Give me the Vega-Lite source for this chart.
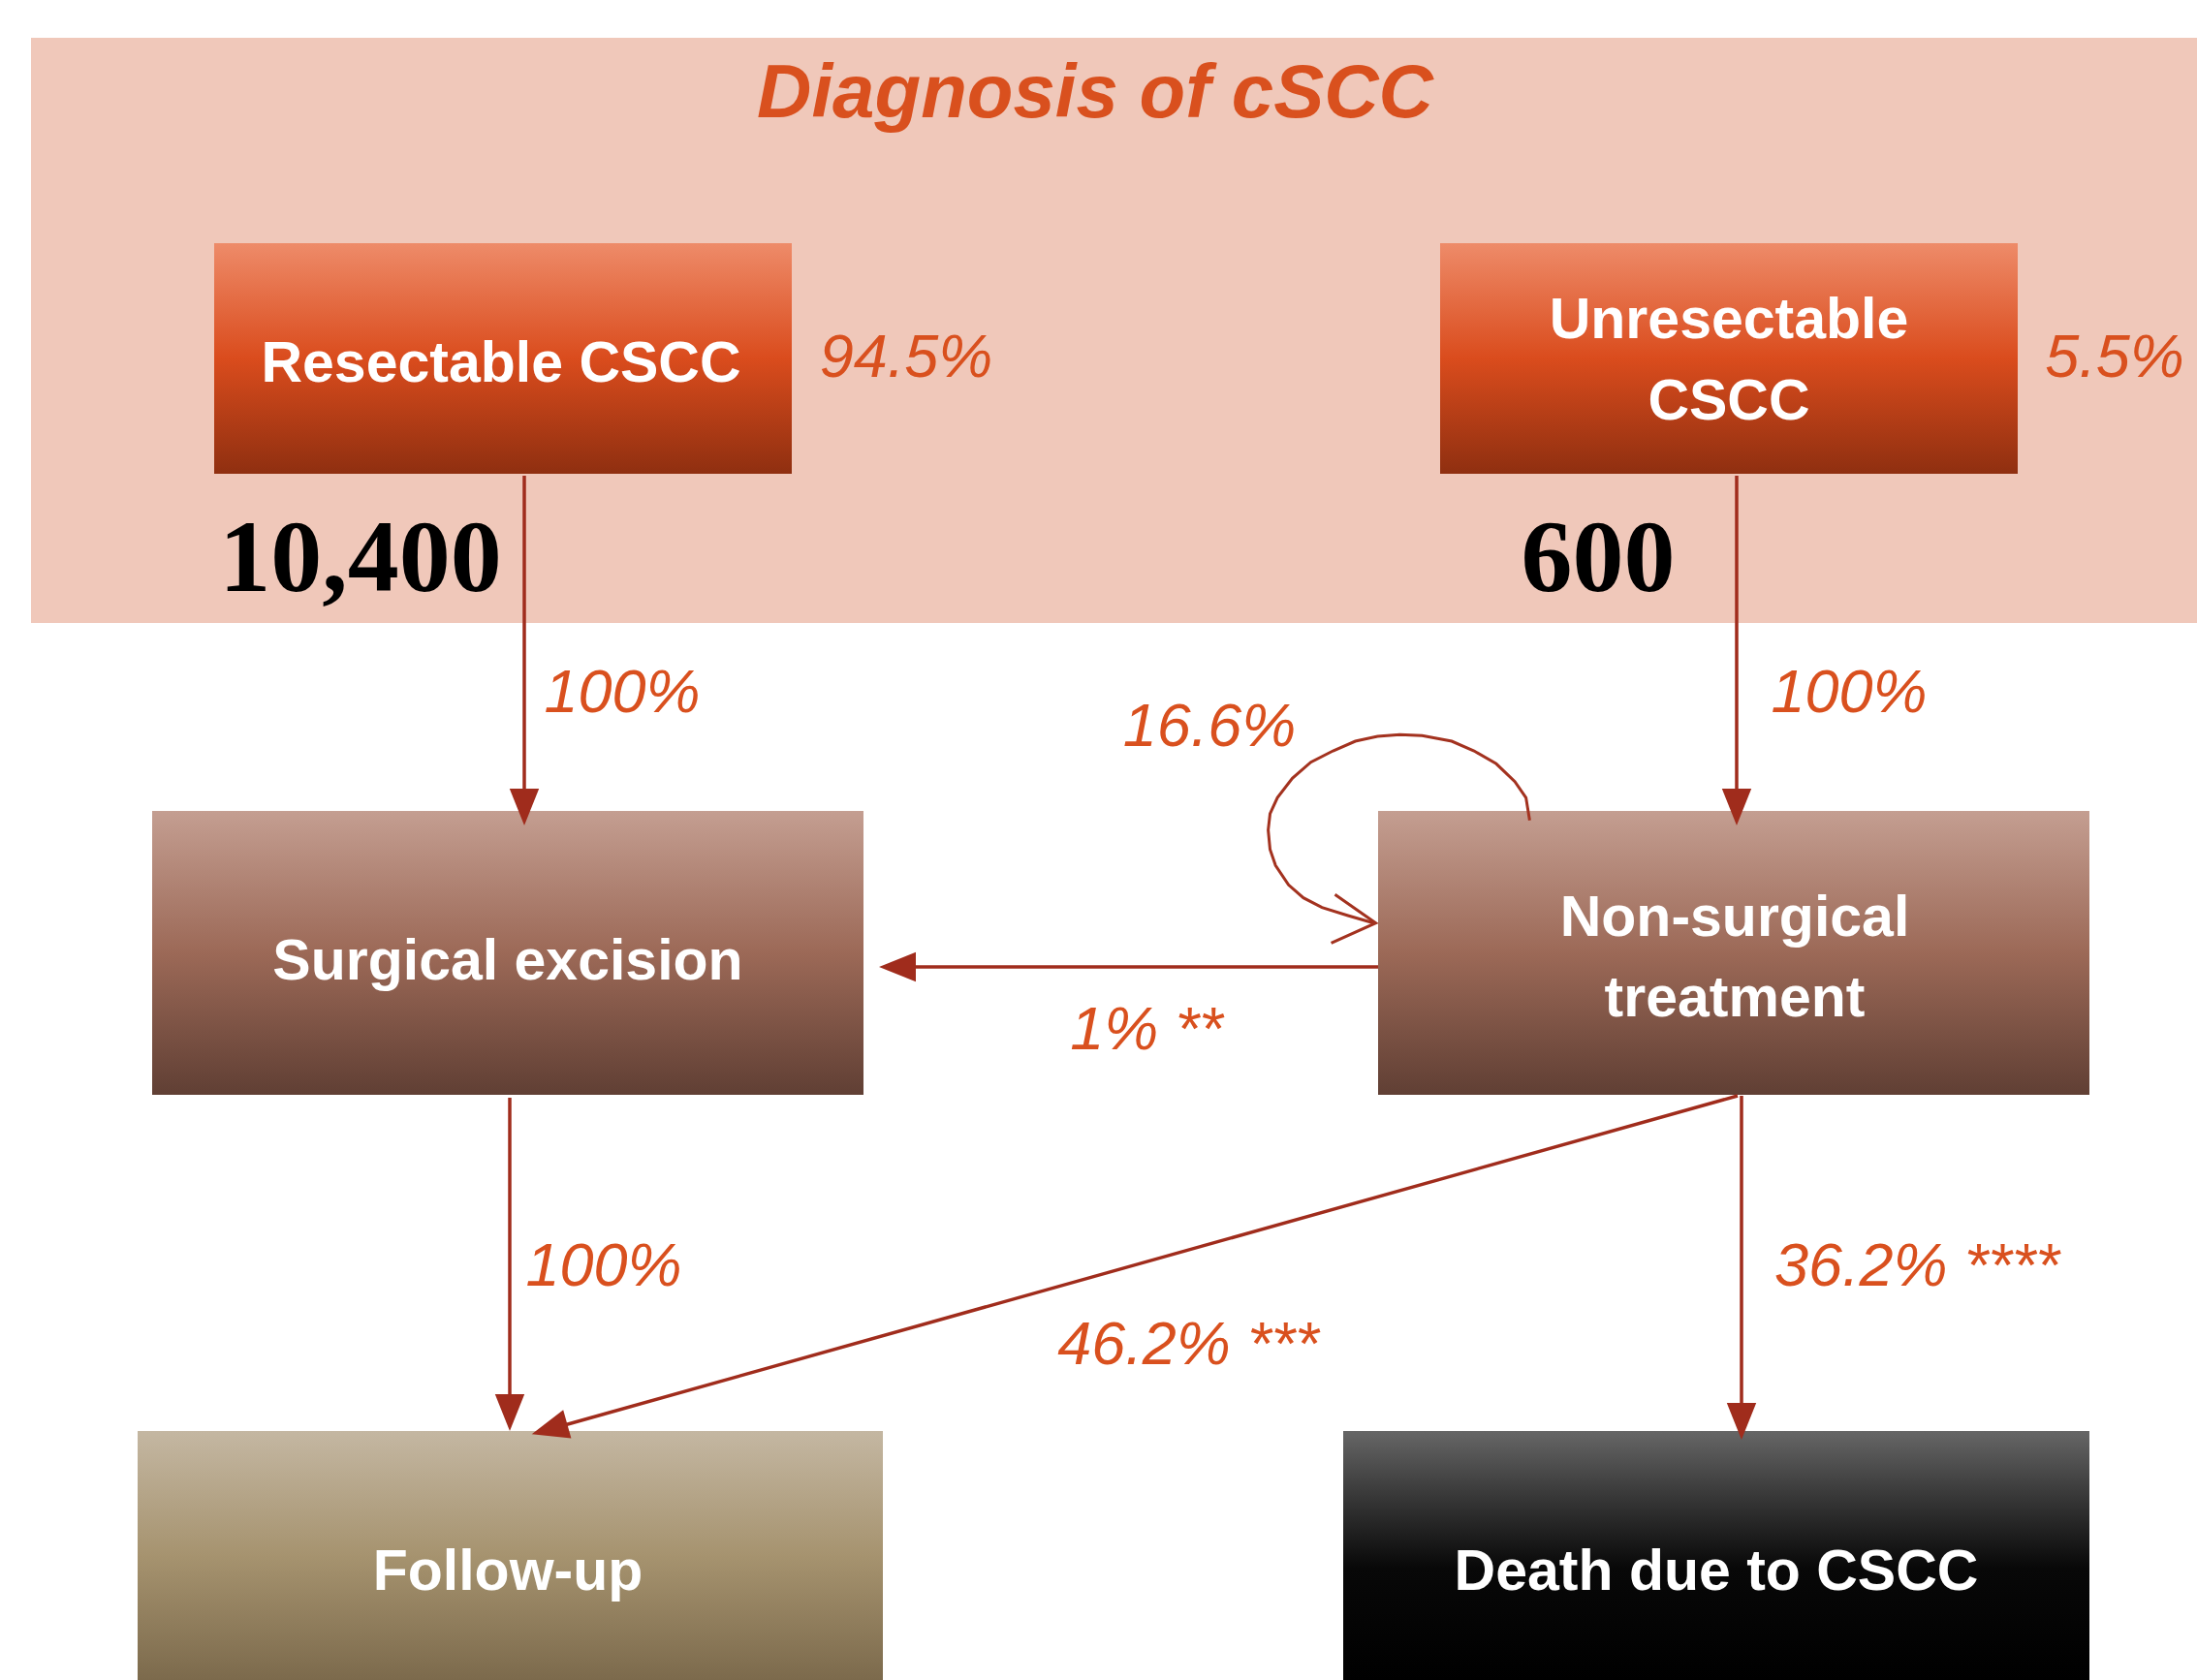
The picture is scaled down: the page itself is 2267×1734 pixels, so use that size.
{
  "$schema": "https://vega.github.io/schema/vega-lite/v6.json",
  "width": 2267,
  "height": 1734,
  "autosize": {"type": "fit", "contains": "padding"},
  "padding": 0,
  "background": "white",
  "config": {"view": {"stroke": null}, "axis": {"disable": true}},
  "datasets": {
    "boxes": [
      {"id": "diagnosis", "kind": "diag", "x1": 32, "x2": 2267, "y1": 39, "y2": 643},
      {"id": "resectable", "kind": "primary", "x1": 221, "x2": 817, "y1": 251, "y2": 489},
      {"id": "unresectable", "kind": "primary", "x1": 1486, "x2": 2082, "y1": 251, "y2": 489},
      {"id": "surgical", "kind": "treatment", "x1": 157, "x2": 891, "y1": 837, "y2": 1130},
      {"id": "nonsurgical", "kind": "treatment", "x1": 1422, "x2": 2156, "y1": 837, "y2": 1130},
      {"id": "followup", "kind": "follow", "x1": 142, "x2": 911, "y1": 1477, "y2": 1734},
      {"id": "death", "kind": "death", "x1": 1386, "x2": 2156, "y1": 1477, "y2": 1734}
    ],
    "arrows": [
      {"from": "resectable", "to": "surgical", "x1": 541, "y1": 491, "x2": 541, "y2": 838},
      {"from": "unresectable", "to": "nonsurgical", "x1": 1792, "y1": 491, "x2": 1792, "y2": 838},
      {"from": "nonsurgical", "to": "surgical", "x1": 1422, "y1": 998, "x2": 922, "y2": 998},
      {"from": "surgical", "to": "followup", "x1": 526, "y1": 1133, "x2": 526, "y2": 1462},
      {"from": "nonsurgical", "to": "death", "x1": 1797, "y1": 1131, "x2": 1797, "y2": 1470},
      {"from": "nonsurgical", "to": "followup", "x1": 1793, "y1": 1131, "x2": 568, "y2": 1475}
    ],
    "heads": [
      {"to": "surgical", "x": 541, "y": 833, "angle": 0},
      {"to": "nonsurgical", "x": 1792, "y": 833, "angle": 0},
      {"to": "surgical", "x": 926, "y": 998, "angle": 90},
      {"to": "followup", "x": 526, "y": 1458, "angle": 0},
      {"to": "death", "x": 1797, "y": 1467, "angle": 0},
      {"to": "followup", "x": 567, "y": 1475, "angle": 74.3}
    ],
    "loop": [
      {"part": "arc", "i": 0, "x": 1578.4, "y": 846.7},
      {"part": "arc", "i": 1, "x": 1574.6, "y": 823.3},
      {"part": "arc", "i": 2, "x": 1563.1, "y": 806.7},
      {"part": "arc", "i": 3, "x": 1543.9, "y": 788.3},
      {"part": "arc", "i": 4, "x": 1521.0, "y": 775.0},
      {"part": "arc", "i": 5, "x": 1498.0, "y": 765.0},
      {"part": "arc", "i": 6, "x": 1467.4, "y": 759.3},
      {"part": "arc", "i": 7, "x": 1444.4, "y": 758.3},
      {"part": "arc", "i": 8, "x": 1421.5, "y": 760.0},
      {"part": "arc", "i": 9, "x": 1398.5, "y": 765.0},
      {"part": "arc", "i": 10, "x": 1375.5, "y": 775.0},
      {"part": "arc", "i": 11, "x": 1352.6, "y": 786.7},
      {"part": "arc", "i": 12, "x": 1333.5, "y": 803.3},
      {"part": "arc", "i": 13, "x": 1318.1, "y": 823.3},
      {"part": "arc", "i": 14, "x": 1310.5, "y": 840.0},
      {"part": "arc", "i": 15, "x": 1308.6, "y": 856.7},
      {"part": "arc", "i": 16, "x": 1310.5, "y": 876.7},
      {"part": "arc", "i": 17, "x": 1316.2, "y": 893.3},
      {"part": "arc", "i": 18, "x": 1329.6, "y": 913.3},
      {"part": "arc", "i": 19, "x": 1344.9, "y": 926.7},
      {"part": "arc", "i": 20, "x": 1364.1, "y": 936.7},
      {"part": "arc", "i": 21, "x": 1390.9, "y": 945.0},
      {"part": "arc", "i": 22, "x": 1417.6, "y": 952.7},
      {"part": "chevron", "i": 0, "x": 1377.5, "y": 923.3},
      {"part": "chevron", "i": 1, "x": 1419.6, "y": 952.7},
      {"part": "chevron", "i": 2, "x": 1373.6, "y": 973.3}
    ],
    "labels": [
      {"role": "title", "text": "Diagnosis of cSCC", "x": 1130, "y": 121},
      {"role": "box", "text": "Resectable CSCC", "x": 517, "y": 394},
      {"role": "box", "text": "Unresectable", "x": 1784, "y": 349},
      {"role": "box", "text": "CSCC", "x": 1784, "y": 433},
      {"role": "box", "text": "Surgical excision", "x": 524, "y": 1011},
      {"role": "box", "text": "Non-surgical", "x": 1790, "y": 966},
      {"role": "box", "text": "treatment", "x": 1790, "y": 1049},
      {"role": "box", "text": "Follow-up", "x": 524, "y": 1641},
      {"role": "box", "text": "Death due to CSCC", "x": 1771, "y": 1641},
      {"role": "pct", "text": "94.5%", "x": 935, "y": 389},
      {"role": "pct", "text": "5.5%", "x": 2182, "y": 389},
      {"role": "pct", "text": "100%", "x": 642, "y": 735},
      {"role": "pct", "text": "100%", "x": 1908, "y": 735},
      {"role": "pct", "text": "16.6%", "x": 1248, "y": 770},
      {"role": "pct", "text": "1% **", "x": 1183, "y": 1083},
      {"role": "pct", "text": "100%", "x": 623, "y": 1327},
      {"role": "pct", "text": "36.2% ****", "x": 1978, "y": 1327},
      {"role": "pct", "text": "46.2% ***", "x": 1226, "y": 1408},
      {"role": "count", "text": "10,400", "x": 372, "y": 610},
      {"role": "count", "text": "600", "x": 1649, "y": 610}
    ]
  },
  "layer": [
    {
      "data": {"name": "boxes"},
      "transform": [{"filter": "datum.kind === 'diag'"}],
      "mark": {"type": "rect", "fill": "#F0C8BA"},
      "encoding": {
        "x": {"field": "x1", "type": "quantitative", "scale": {"domain": [0, 2267], "nice": false, "zero": false}},
        "x2": {"field": "x2"},
        "y": {"field": "y1", "type": "quantitative", "scale": {"domain": [0, 1734], "nice": false, "zero": false, "reverse": true}},
        "y2": {"field": "y2"}
      }
    },
    {
      "data": {"name": "boxes"},
      "transform": [{"filter": "datum.kind === 'primary'"}],
      "mark": {"type": "rect", "fill": {"gradient": "linear", "x1": 0, "y1": 0, "x2": 0, "y2": 1, "stops": [
        {"offset": 0, "color": "#EE8B69"},
        {"offset": 0.5, "color": "#DA4C1D"},
        {"offset": 1, "color": "#8F2F10"}
      ]}},
      "encoding": {
        "x": {"field": "x1", "type": "quantitative", "scale": {"domain": [0, 2267], "nice": false, "zero": false}},
        "x2": {"field": "x2"},
        "y": {"field": "y1", "type": "quantitative", "scale": {"domain": [0, 1734], "nice": false, "zero": false, "reverse": true}},
        "y2": {"field": "y2"}
      }
    },
    {
      "data": {"name": "boxes"},
      "transform": [{"filter": "datum.kind === 'treatment'"}],
      "mark": {"type": "rect", "fill": {"gradient": "linear", "x1": 0, "y1": 0, "x2": 0, "y2": 1, "stops": [
        {"offset": 0, "color": "#C49E91"},
        {"offset": 0.5, "color": "#9C6957"},
        {"offset": 1, "color": "#603F34"}
      ]}},
      "encoding": {
        "x": {"field": "x1", "type": "quantitative", "scale": {"domain": [0, 2267], "nice": false, "zero": false}},
        "x2": {"field": "x2"},
        "y": {"field": "y1", "type": "quantitative", "scale": {"domain": [0, 1734], "nice": false, "zero": false, "reverse": true}},
        "y2": {"field": "y2"}
      }
    },
    {
      "data": {"name": "boxes"},
      "transform": [{"filter": "datum.kind === 'follow'"}],
      "mark": {"type": "rect", "fill": {"gradient": "linear", "x1": 0, "y1": 0, "x2": 0, "y2": 1, "stops": [
        {"offset": 0, "color": "#C4B7A2"},
        {"offset": 0.5, "color": "#A6936F"},
        {"offset": 1, "color": "#7C6A4C"}
      ]}},
      "encoding": {
        "x": {"field": "x1", "type": "quantitative", "scale": {"domain": [0, 2267], "nice": false, "zero": false}},
        "x2": {"field": "x2"},
        "y": {"field": "y1", "type": "quantitative", "scale": {"domain": [0, 1734], "nice": false, "zero": false, "reverse": true}},
        "y2": {"field": "y2"}
      }
    },
    {
      "data": {"name": "boxes"},
      "transform": [{"filter": "datum.kind === 'death'"}],
      "mark": {"type": "rect", "fill": {"gradient": "linear", "x1": 0, "y1": 0, "x2": 0, "y2": 1, "stops": [
        {"offset": 0, "color": "#666666"},
        {"offset": 0.25, "color": "#3A3A3A"},
        {"offset": 0.55, "color": "#080808"},
        {"offset": 1, "color": "#000000"}
      ]}},
      "encoding": {
        "x": {"field": "x1", "type": "quantitative", "scale": {"domain": [0, 2267], "nice": false, "zero": false}},
        "x2": {"field": "x2"},
        "y": {"field": "y1", "type": "quantitative", "scale": {"domain": [0, 1734], "nice": false, "zero": false, "reverse": true}},
        "y2": {"field": "y2"}
      }
    },
    {
      "data": {"name": "arrows"},
      "mark": {"type": "rule", "color": "#A02C1C", "strokeWidth": 3.5},
      "encoding": {
        "x": {"field": "x1", "type": "quantitative", "scale": {"domain": [0, 2267], "nice": false, "zero": false}},
        "x2": {"field": "x2"},
        "y": {"field": "y1", "type": "quantitative", "scale": {"domain": [0, 1734], "nice": false, "zero": false, "reverse": true}},
        "y2": {"field": "y2"}
      }
    },
    {
      "data": {"name": "loop"},
      "mark": {"type": "line", "color": "#A3321F", "strokeWidth": 3, "interpolate": "linear"},
      "encoding": {
        "x": {"field": "x", "type": "quantitative", "scale": {"domain": [0, 2267], "nice": false, "zero": false}},
        "y": {"field": "y", "type": "quantitative", "scale": {"domain": [0, 1734], "nice": false, "zero": false, "reverse": true}},
        "order": {"field": "i", "type": "quantitative"},
        "detail": {"field": "part", "type": "nominal"}
      }
    },
    {
      "data": {"name": "heads"},
      "mark": {"type": "point", "shape": "M-0.8,-1L0.8,-1L0,1Z", "size": 1444, "filled": true, "opacity": 1, "color": "#A02C1C", "strokeWidth": 0},
      "encoding": {
        "x": {"field": "x", "type": "quantitative", "scale": {"domain": [0, 2267], "nice": false, "zero": false}},
        "y": {"field": "y", "type": "quantitative", "scale": {"domain": [0, 1734], "nice": false, "zero": false, "reverse": true}},
        "angle": {"field": "angle", "type": "quantitative", "scale": null}
      }
    },
    {
      "data": {"name": "labels"},
      "transform": [{"filter": "datum.role === 'title'"}],
      "mark": {"type": "text", "font": "Liberation Sans", "fontSize": 78, "fontWeight": "bold", "fontStyle": "italic", "color": "#D9501E", "align": "center", "baseline": "alphabetic"},
      "encoding": {
        "x": {"field": "x", "type": "quantitative", "scale": {"domain": [0, 2267], "nice": false, "zero": false}},
        "y": {"field": "y", "type": "quantitative", "scale": {"domain": [0, 1734], "nice": false, "zero": false, "reverse": true}},
        "text": {"field": "text"}
      }
    },
    {
      "data": {"name": "labels"},
      "transform": [{"filter": "datum.role === 'box'"}],
      "mark": {"type": "text", "font": "Liberation Sans", "fontSize": 59, "fontWeight": "bold", "color": "#FFFFFF", "align": "center", "baseline": "alphabetic"},
      "encoding": {
        "x": {"field": "x", "type": "quantitative", "scale": {"domain": [0, 2267], "nice": false, "zero": false}},
        "y": {"field": "y", "type": "quantitative", "scale": {"domain": [0, 1734], "nice": false, "zero": false, "reverse": true}},
        "text": {"field": "text"}
      }
    },
    {
      "data": {"name": "labels"},
      "transform": [{"filter": "datum.role === 'pct'"}],
      "mark": {"type": "text", "font": "Liberation Sans", "fontSize": 63, "fontStyle": "italic", "color": "#D9501E", "align": "center", "baseline": "alphabetic"},
      "encoding": {
        "x": {"field": "x", "type": "quantitative", "scale": {"domain": [0, 2267], "nice": false, "zero": false}},
        "y": {"field": "y", "type": "quantitative", "scale": {"domain": [0, 1734], "nice": false, "zero": false, "reverse": true}},
        "text": {"field": "text"}
      }
    },
    {
      "data": {"name": "labels"},
      "transform": [{"filter": "datum.role === 'count'"}],
      "mark": {"type": "text", "font": "Liberation Serif", "fontSize": 106, "fontWeight": "bold", "color": "#000000", "align": "center", "baseline": "alphabetic"},
      "encoding": {
        "x": {"field": "x", "type": "quantitative", "scale": {"domain": [0, 2267], "nice": false, "zero": false}},
        "y": {"field": "y", "type": "quantitative", "scale": {"domain": [0, 1734], "nice": false, "zero": false, "reverse": true}},
        "text": {"field": "text"}
      }
    }
  ]
}
